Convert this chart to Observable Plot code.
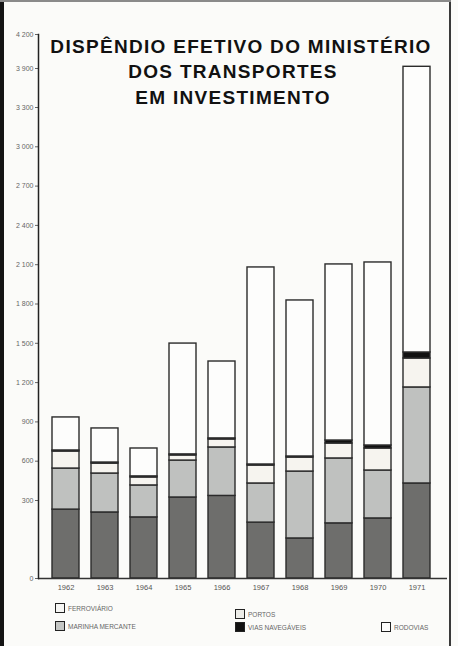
<!DOCTYPE html>
<html>
<head>
<meta charset="utf-8">
<script src="https://cdn.jsdelivr.net/npm/d3@7"></script>
<script src="https://cdn.jsdelivr.net/npm/@observablehq/plot@0.6"></script>
<style>
  html, body { margin: 0; padding: 0; background: #fbfbf9; }
  #wrap { position: relative; width: 458px; height: 646px; overflow: hidden; background: #fbfbf9; }
  #edgeL { position: absolute; left: 0; top: 0; width: 4px; height: 646px; background: #141414; }
  #edgeR { position: absolute; left: 449px; top: 0; width: 2px; height: 646px; background: #3a3a3a; }
  #edgeT { position: absolute; left: 0; top: 0; width: 451px; height: 2px; background: #8a8a8a; }
  #chart { position: absolute; left: 0; top: 0; }
  .tl { position: absolute; font-family: "Liberation Sans", Arial, sans-serif; font-weight: bold; font-size: 19px; letter-spacing: 1.3px; color: #111; white-space: nowrap; text-align: center; line-height: 19px; }
  .lg { position: absolute; font-family: "Liberation Sans", Arial, sans-serif; font-size: 6.5px; color: #666; white-space: nowrap; display: flex; align-items: center; }
  .sw { width: 8px; height: 8px; border: 1.6px solid #222; margin-right: 3px; box-sizing: content-box; }
</style>
</head>
<body>
<div id="wrap">
  <div id="chart"></div>
  <div id="edgeL"></div>
  <div id="edgeR"></div>
  <div id="edgeT"></div>
  <div id="titles"></div>
  <div id="legend"></div>
</div>
<script>
// ---- data ----
const years = ["1962","1963","1964","1965","1966","1967","1968","1969","1970","1971"];
const seriesNames = ["Ferroviário","Marinha Mercante","Portos","Vias Navegáveis","Rodovias"];
const ferroviario    = [265, 254, 235, 323, 335, 215, 154, 212, 231, 430];
const marinhaMercante= [279, 252, 180, 282, 370, 215, 367, 409, 298, 733];
const portos         = [130,  76,  61,  39,  61, 137, 107, 114, 168, 221];
const viasNavegaveis = [  8,   8,   8,   8,   8,   8,   8,  23,  23,  46];
const rodovias       = [252, 260, 213, 846, 587,1504,1191,1344,1397,2485];
const yTicks      = [0, 300, 600, 900, 1200, 1500, 1800, 2100, 2400, 2700, 3000, 3300, 3900, 4200];
const yTickLabels = ["0","300","600","900","1 200","1 500","1 800","2 100","2 400","2 700","3 000","3 300","3 900","4 200"];
const titleLines  = ["DISPÊNDIO EFETIVO DO MINISTÉRIO","DOS TRANSPORTES","EM INVESTIMENTO"];
const legendLabels = ["FERROVIÁRIO","MARINHA MERCANTE","PORTOS","VIAS NAVEGÁVEIS","RODOVIAS"];

// ---- styles ----
const fills = ["#6e6e6c", "#bfc1bf", "#f6f4ef", "#111111", "#fdfdfc"];
const legendFills = ["#f6f6f4", "#c4c6c4", "#ecece8", "#111111", "#fdfdfc"];

const seriesValues = [ferroviario, marinhaMercante, portos, viasNavegaveis, rodovias];
const data = years.flatMap((yr, i) => seriesNames.map((s, j) => ({year: yr, series: s, value: seriesValues[j][i]})));

const chart = Plot.plot({
  width: 452,
  height: 598,
  marginLeft: 38,
  marginRight: 5,
  marginTop: 34,
  marginBottom: 20,
  style: {background: "transparent", fontFamily: "'Liberation Sans Narrow', 'Liberation Sans', sans-serif"},
  x: {domain: years, range: [42, 440], paddingInner: 0.3, paddingOuter: 0.15, label: null},
  y: {type: "linear", domain: [0, 300, 3300, 3900, 4200], range: [578, 500, 107, 68, 34], label: null},
  color: {domain: seriesNames, range: fills},
  marks: [
    Plot.barY(data, {x: "year", y: "value", fill: "series", order: seriesNames, stroke: "#2b2b2b", strokeWidth: 1.4}),
    Plot.ruleY([0], {stroke: "#333", strokeWidth: 1.5}),
    Plot.axisY({ticks: yTicks, tickFormat: d => yTickLabels[yTicks.indexOf(d)], tickSize: 3, tickPadding: 2, fontSize: 7, color: "#666", label: null}),
    Plot.frame({anchor: "left", stroke: "#222", strokeWidth: 1.5}),
    Plot.axisX({tickSize: 0, tickPadding: 6, fontSize: 7.5, color: "#555", label: null})
  ]
});
document.getElementById("chart").appendChild(chart);

// ---- title ----
const titles = document.getElementById("titles");
const titlePos = [{left: 40, width: 402, top: 37}, {left: 40, width: 386, top: 62}, {left: 40, width: 386, top: 88}];
titleLines.forEach((t, i) => {
  const d = document.createElement("div");
  d.className = "tl";
  d.textContent = t;
  d.style.left = titlePos[i].left + "px";
  d.style.width = titlePos[i].width + "px";
  d.style.top = titlePos[i].top + "px";
  titles.appendChild(d);
});

// ---- legend ----
const legend = document.getElementById("legend");
const legendPos = [{left: 55, top: 603}, {left: 55, top: 621}, {left: 235, top: 609}, {left: 235, top: 622}, {left: 381, top: 622}];
legendLabels.forEach((t, i) => {
  const d = document.createElement("div");
  d.className = "lg";
  d.style.left = legendPos[i].left + "px";
  d.style.top = legendPos[i].top + "px";
  const sw = document.createElement("div");
  sw.className = "sw";
  sw.style.background = legendFills[i];
  const lab = document.createElement("span");
  lab.textContent = t;
  d.appendChild(sw);
  d.appendChild(lab);
  legend.appendChild(d);
});
</script>
</body>
</html>
